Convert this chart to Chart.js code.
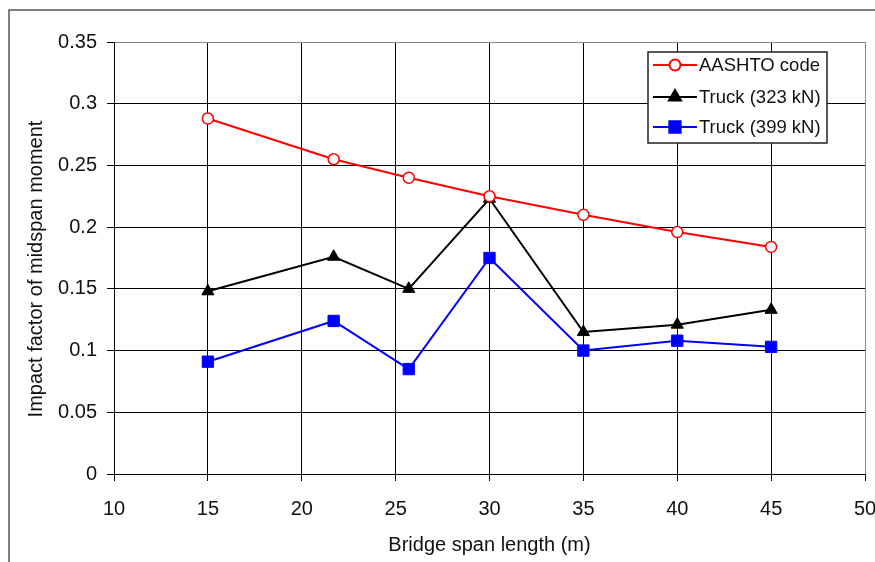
<!DOCTYPE html>
<html lang="en">
<head>
    <meta charset="UTF-8">
    <title>Impact factor of midspan moment</title>
    <script src="https://cdn.jsdelivr.net/npm/chart.js"></script>
    <style>
        html, body {
            margin: 0;
            padding: 0;
            background: #fff;
        }
        #box {
            width: 875px;
            height: 562px;
        }
    </style>
</head>
<body>
    <div id="box"><canvas id="impactChart"></canvas></div>

    <script>
        // data
        const spanLengths = [15, 21.7, 25.7, 30, 35, 40, 45];
        const aashto = [0.288, 0.255, 0.240, 0.225, 0.210, 0.196, 0.184];
        const truck323 = [0.148, 0.176, 0.150, 0.223, 0.115, 0.121, 0.133];
        const truck399 = [0.091, 0.124, 0.085, 0.175, 0.100, 0.108, 0.103];

        const xTicks = [10, 15, 20, 25, 30, 35, 40, 45, 50];
        const yTicks = [0, 0.05, 0.1, 0.15, 0.2, 0.25, 0.3, 0.35];

        const seriesNames = ["AASHTO code", "Truck (323 kN)", "Truck (399 kN)"];
        const xTitle = "Bridge span length (m)";
        const yTitle = "Impact factor of midspan moment";

        const FONT = "Arial, 'Liberation Sans', sans-serif";

        function pts(vals) {
            return vals.map((v, i) => ({ x: spanLengths[i], y: v }));
        }

        // frame, y title and legend box
        const extras = {
            id: "extras",
            afterDraw(chart) {
                const ctx = chart.ctx;
                ctx.save();

                ctx.strokeStyle = "#555";
                ctx.lineWidth = 1.5;
                ctx.strokeRect(9, 10, 900, 600);

                ctx.fillStyle = "#111";
                ctx.font = "20px " + FONT;
                ctx.translate(36, 269);
                ctx.rotate(-Math.PI / 2);
                ctx.textAlign = "center";
                ctx.textBaseline = "middle";
                ctx.fillText(yTitle, 0, 0);
                ctx.setTransform(1, 0, 0, 1, 0, 0);

                // legend
                ctx.fillStyle = "#fff";
                ctx.fillRect(648, 52, 179, 91);
                ctx.strokeStyle = "#222";
                ctx.lineWidth = 1.5;
                ctx.strokeRect(648, 52, 179, 91);

                const rows = [65, 97, 127];
                chart.data.datasets.forEach((ds, i) => {
                    const y = rows[i];
                    ctx.strokeStyle = ds.borderColor;
                    ctx.lineWidth = 2;
                    ctx.beginPath();
                    ctx.moveTo(653, y);
                    ctx.lineTo(697, y);
                    ctx.stroke();

                    ctx.fillStyle = ds.pointBackgroundColor;
                    ctx.strokeStyle = ds.pointBorderColor;
                    Chart.helpers.drawPoint(ctx, {
                        pointStyle: ds.pointStyle,
                        radius: ds.pointRadius,
                        rotation: 0,
                        borderWidth: ds.pointBorderWidth
                    }, 675, y);

                    ctx.fillStyle = "#111";
                    ctx.font = "18.5px " + FONT;
                    ctx.textAlign = "left";
                    ctx.textBaseline = "middle";
                    ctx.fillText(ds.label, 699, y + 1);
                });

                ctx.restore();
            }
        };

        const ctx = document.getElementById("impactChart").getContext("2d");
        const impactChart = new Chart(ctx, {
            type: "line",
            data: {
                datasets: [{
                    label: seriesNames[0],
                    data: pts(aashto),
                    borderColor: "#ff0000",
                    borderWidth: 2,
                    pointStyle: "circle",
                    pointRadius: 5.5,
                    pointBackgroundColor: "#ffffff",
                    pointBorderColor: "#ff0000",
                    pointBorderWidth: 1.5
                }, {
                    label: seriesNames[1],
                    data: pts(truck323),
                    borderColor: "#000000",
                    borderWidth: 2,
                    pointStyle: "triangle",
                    pointRadius: 7,
                    pointBackgroundColor: "#000000",
                    pointBorderColor: "#000000",
                    pointBorderWidth: 1
                }, {
                    label: seriesNames[2],
                    data: pts(truck399),
                    borderColor: "#0000ff",
                    borderWidth: 2,
                    pointStyle: "rect",
                    pointRadius: 8,
                    pointBackgroundColor: "#0000ff",
                    pointBorderColor: "#0000ff",
                    pointBorderWidth: 1
                }]
            },
            options: {
                responsive: true,
                maintainAspectRatio: false,
                animation: false,
                layout: {
                    padding: { top: 42, right: 10, left: 0, bottom: 0 }
                },
                plugins: {
                    legend: { display: false },
                    tooltip: { enabled: false }
                },
                scales: {
                    x: {
                        type: "linear",
                        min: xTicks[0],
                        max: xTicks[xTicks.length - 1],
                        afterBuildTicks: s => { s.ticks = xTicks.map(v => ({ value: v })); },
                        afterFit: s => {
                            s.height = 88;
                            s.paddingLeft = 0;
                            s.paddingRight = 0;
                        },
                        ticks: {
                            color: "#111",
                            font: { family: FONT, size: 20 },
                            padding: 16,
                            maxRotation: 0
                        },
                        grid: {
                            color: c => c.tick && c.tick.value === 50 ? "#888" : "#000",
                            tickColor: "#000",
                            tickLength: 7,
                            lineWidth: 1
                        },
                        border: { color: "#000", width: 1 },
                        title: {
                            display: true,
                            text: xTitle,
                            color: "#111",
                            font: { family: FONT, size: 20 },
                            padding: { top: 0, bottom: 5 }
                        }
                    },
                    y: {
                        min: yTicks[0],
                        max: yTicks[yTicks.length - 1],
                        afterBuildTicks: s => { s.ticks = yTicks.map(v => ({ value: v })); },
                        afterFit: s => {
                            s.width = 114;
                            s.paddingTop = 0;
                            s.paddingBottom = 0;
                        },
                        ticks: {
                            color: "#111",
                            font: { family: FONT, size: 20 },
                            padding: 10,
                            callback: v => String(+v.toFixed(2))
                        },
                        grid: {
                            color: c => c.tick && c.tick.value === 0.35 ? "#888" : "#000",
                            tickColor: "#000",
                            tickLength: 7,
                            lineWidth: 1
                        },
                        border: { color: "#000", width: 1 }
                    }
                }
            },
            plugins: [extras]
        });
    </script>
</body>
</html>
